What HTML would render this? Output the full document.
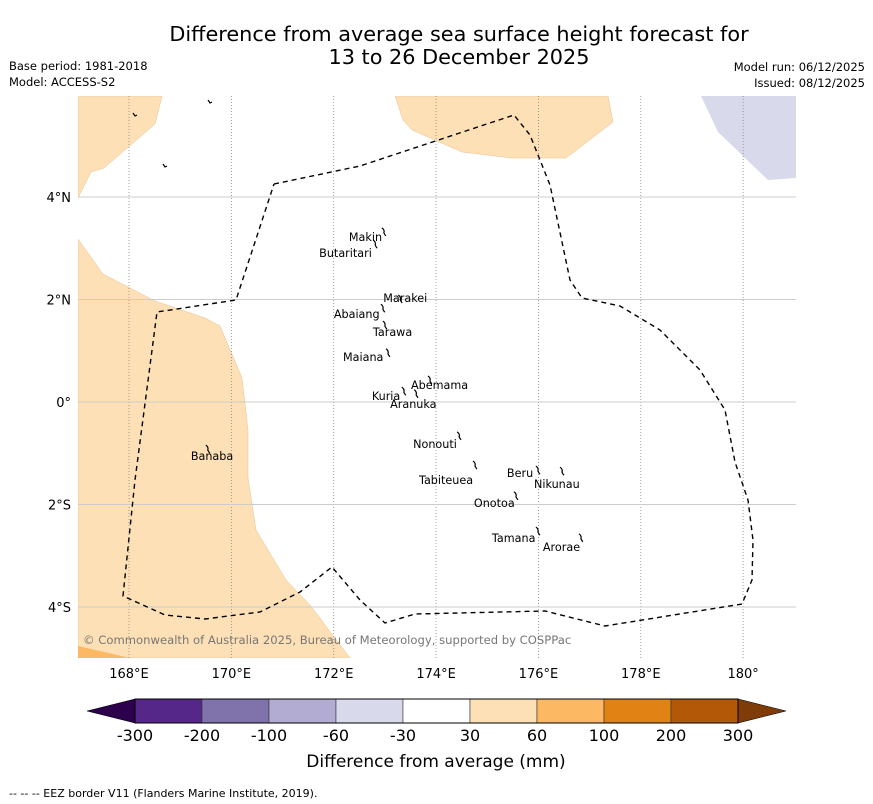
<!DOCTYPE html>
<html><head><meta charset="utf-8"><style>
body{margin:0;background:#fff;}
svg{display:block;font-family:"DejaVu Sans","Liberation Sans",sans-serif;}
</style></head><body>
<svg width="873" height="804" viewBox="0 0 873 804" xmlns="http://www.w3.org/2000/svg">
<text x="459" y="41" font-size="20.8" text-anchor="middle">Difference from average sea surface height forecast for</text>
<text x="459" y="64" font-size="20.8" text-anchor="middle">13 to 26 December 2025</text>
<text x="9" y="70" font-size="11.5">Base period: 1981-2018</text>
<text x="9" y="86" font-size="11.5">Model: ACCESS-S2</text>
<text x="865" y="71" font-size="11.5" text-anchor="end">Model run: 06/12/2025</text>
<text x="865" y="87" font-size="11.5" text-anchor="end">Issued: 08/12/2025</text>
<defs><clipPath id="mapclip"><rect x="78" y="96" width="718" height="562"/></clipPath></defs>
<g id="map" clip-path="url(#mapclip)">
<polygon fill="#fee0b6" stroke="#e8c090" stroke-width="0.5" points="78,198 91,172 104,168 155,124 162,96 78,96"/>
<polygon fill="#fee0b6" stroke="#e8c090" stroke-width="0.5" points="78,239 103,274 155,301 205,318 220,326 242,378 248,430 248,478 256,530 286,580 310,605 350,658 78,658"/>
<polygon fill="#fdb863" points="78,646 130,658 78,658"/>
<polygon fill="#fee0b6" stroke="#e8c090" stroke-width="0.5" points="395,96 403,120 412,130 462,152 512,158 566,158 613,122 608,96"/>
<polygon fill="#d8daeb" points="701,96 718,132 768,180 796,178 796,96"/>
<g id="grid"></g>
<g id="islands" stroke="#000" stroke-width="1.2" fill="none"></g>
<polyline fill="none" stroke="#000" stroke-width="1.4" stroke-dasharray="5,4" points="274,184 360,166 514,115 530,135 550,185 570,280 582,298 620,306 660,330 700,370 725,410 735,462 748,500 753,540 752,580 742,604 605,626 545,611 415,614 385,623 360,600 332,567 300,592 260,612 205,619 165,615 123,596 135,480 157,312 236,300 274,184"/>
<g id="labels" font-size="11.2"></g>
<text x="83" y="644" font-size="11.6" fill="#777">© Commonwealth of Australia 2025, Bureau of Meteorology, supported by COSPPac</text>
</g>
<g id="axes" font-size="13"></g>
<g id="colorbar"></g>
<text x="436" y="767" font-size="17" text-anchor="middle">Difference from average (mm)</text>
<text x="9" y="797" font-size="11">--  --  -- EEZ border V11 (Flanders Marine Institute, 2019).</text>
</svg>
<script>
const lonTicks=[168,170,172,174,176,178,180];
const lonLabels=["168°E","170°E","172°E","174°E","176°E","178°E","180°"];
const latTicks=[4,2,0,-2,-4];
const latLabels=["4°N","2°N","0°","2°S","4°S"];
const cbBounds=["-300","-200","-100","-60","-30","30","60","100","200","300"];
const cbColors=["#542788","#8073ac","#b2abd2","#d8daeb","#ffffff","#fee0b6","#fdb863","#e08214","#b35806"];
const islandNames=["Makin","Butaritari","Marakei","Abaiang","Tarawa","Maiana","Abemama","Kuria","Aranuka","Nonouti","Tabiteuea","Beru","Nikunau","Onotoa","Tamana","Arorae","Banaba"];
const islandLon=[172.98,172.81,173.30,172.96,173.00,173.06,173.88,173.37,173.61,174.45,174.76,175.99,176.46,175.56,175.99,176.83,169.54];
const islandLat=[3.32,3.08,2.01,1.83,1.50,0.96,0.43,0.21,0.16,-0.66,-1.23,-1.33,-1.35,-1.83,-2.52,-2.65,-0.92];
const labelDx=[-35,-56,-17,-49,-12,-45,-19,-32,-26,-46,-56,-31,-28,-42,-46,-38,-17];
const labelDy=[9,13,3,10,11,8,9,9,14,12,19,7,17,11,11,13,11];
const NS='http://www.w3.org/2000/svg';
const X=lon=>129+(lon-168)*51.18;
const Y=lat=>402-lat*51.25;
function mk(t,a,p){const e=document.createElementNS(NS,t);for(const k in a)e.setAttribute(k,a[k]);p.appendChild(e);return e;}
const grid=document.getElementById('grid'),axes=document.getElementById('axes');
lonTicks.forEach((v,i)=>{
 const l=mk('line',{x1:X(v),x2:X(v),y1:96,y2:658,stroke:'#888','stroke-width':0.8,'stroke-dasharray':'1,2'},grid);
 
 
 const t=mk('text',{x:X(v),y:678,'text-anchor':'middle'},axes);t.textContent=lonLabels[i];
 
 
});
latTicks.forEach((v,i)=>{
 const l=mk('line',{x1:78,x2:796,y1:Y(v),y2:Y(v),stroke:'#ccc','stroke-width':1},grid);
 
 
 const t=mk('text',{x:71,y:Y(v)+5,'text-anchor':'end'},axes);t.textContent=latLabels[i];
 
 
});
const isl=document.getElementById('islands'),lab=document.getElementById('labels');
islandNames.forEach((n,i)=>{
 const x=X(islandLon[i]),y=Y(islandLat[i]);
 const p=mk('path',{d:`M${x-2},${y-4} q3,2 2,5 q1,2 2,3`},isl);
 
 
 const t=mk('text',{x:x+labelDx[i],y:y+labelDy[i]},lab);t.textContent=n;
 
 
});
[[135,115],[210,102],[165,166]].forEach(p=>{const e=mk('path',{d:`M${p[0]-2},${p[1]-2} l2,3 l2,-1`},isl);
 
 });
const cb=document.getElementById('colorbar');
const cx0=135,cx1=738,cy0=699,cy1=723,w=(cx1-cx0)/cbColors.length;
const lt=mk('polygon',{points:`${cx0},${cy0} ${cx0},${cy1} 87,${(cy0+cy1)/2}`,fill:'#2d004b',stroke:'#000','stroke-width':0.6},cb);


const rt=mk('polygon',{points:`${cx1},${cy0} ${cx1},${cy1} 786,${(cy0+cy1)/2}`,fill:'#7f3b08',stroke:'#000','stroke-width':0.6},cb);


cbColors.forEach((c,i)=>{const r=mk('rect',{x:cx0+i*w,y:cy0,width:w,height:cy1-cy0,fill:c,stroke:'#333','stroke-width':0.6},cb);
 
 });
mk('rect',{x:cx0,y:cy0,width:cx1-cx0,height:cy1-cy0,fill:'none',stroke:'#000','stroke-width':1},cb);
cbBounds.forEach((b,i)=>{const t=mk('text',{x:cx0+i*w,y:741,'font-size':16,'text-anchor':'middle'},cb);t.textContent=b;
 
 });
</script>
</body></html>
